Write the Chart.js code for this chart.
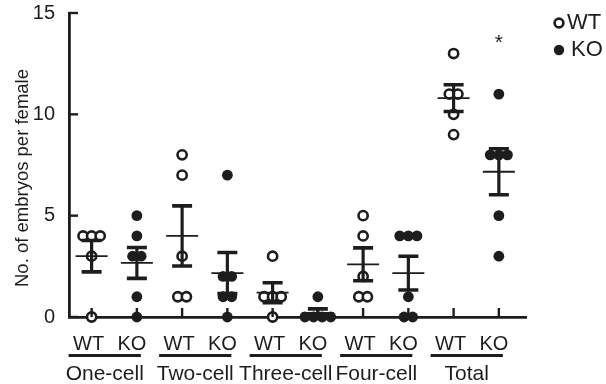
<!DOCTYPE html>
<html><head><meta charset="utf-8">
<script src="https://cdn.jsdelivr.net/npm/chart.js@4"></script>
<style>html,body{margin:0;padding:0;background:#fff}#wrap{width:606px;height:384px}</style>
</head><body><div id="wrap"><canvas id="c" width="606" height="384"></canvas></div>
<script>
// ---- data ----
const groups = ["One-cell", "Two-cell", "Three-cell", "Four-cell", "Total"];
const genotypes = ["WT", "KO"];
const yTicks = [0, 5, 10, 15];
const yTitle = "No. of embryos per female";
const wtOneCell = [4, 4, 4, 3, 0];
const koOneCell = [5, 4, 3, 3, 1, 0];
const wtTwoCell = [8, 7, 3, 1, 1];
const koTwoCell = [7, 2, 2, 1, 1, 0];
const wtThreeCell = [3, 1, 1, 1, 0];
const koThreeCell = [1, 0, 0, 0, 0];
const wtFourCell = [5, 4, 2, 1, 1];
const koFourCell = [4, 4, 4, 1, 0, 0];
const wtTotal = [13, 11, 11, 10, 9];
const koTotal = [11, 8, 8, 8, 5, 3];
const significance = ["", "", "", "", "", "", "", "", "", "*"];

// ---- build ----
const INK = '#1d1d1d';
const FONT = '"Liberation Sans", Arial, Helvetica, sans-serif';
const columns = [wtOneCell, koOneCell, wtTwoCell, koTwoCell, wtThreeCell, koThreeCell, wtFourCell, koFourCell, wtTotal, koTotal];
const JIT = 0.19;
function jitter(vals, xc) {
  const counts = {}, seen = {};
  vals.forEach(v => counts[v] = (counts[v] || 0) + 1);
  return vals.map(v => {
    const k = seen[v] = (seen[v] || 0) + 1;
    return { x: xc + (k - 1 - (counts[v] - 1) / 2) * JIT, y: v };
  });
}
const wtPts = [], koPts = [];
columns.forEach((vals, i) => { (i % 2 === 0 ? wtPts : koPts).push(...jitter(vals, i)); });
function stats(v) {
  const n = v.length, m = v.reduce((a, b) => a + b, 0) / n;
  const sd = Math.sqrt(v.reduce((a, b) => a + (b - m) * (b - m), 0) / (n - 1));
  return { m, sem: sd / Math.sqrt(n) };
}

const deco = {
  id: 'deco',
  afterDatasetsDraw(chart) {
    const ctx = chart.ctx, xs = chart.scales.x, ys = chart.scales.y, ca = chart.chartArea;
    ctx.save();
    ctx.strokeStyle = INK; ctx.fillStyle = INK; ctx.lineCap = 'butt';
    // mean and SEM
    columns.forEach((vals, i) => {
      const s = stats(vals);
      const xc = xs.getPixelForValue(i);
      const yM = ys.getPixelForValue(s.m), yH = ys.getPixelForValue(s.m + s.sem), yL = ys.getPixelForValue(Math.max(0, s.m - s.sem));
      ctx.lineWidth = 1.8;
      ctx.beginPath(); ctx.moveTo(xc - 16, yM); ctx.lineTo(xc + 16, yM); ctx.stroke();
      ctx.lineWidth = 3.2;
      ctx.beginPath(); ctx.moveTo(xc, yH); ctx.lineTo(xc, yL); ctx.stroke();
      ctx.lineWidth = 3.6;
      ctx.beginPath(); ctx.moveTo(xc - 10, yH); ctx.lineTo(xc + 10, yH); ctx.moveTo(xc - 10, yL); ctx.lineTo(xc + 10, yL); ctx.stroke();
      if (significance[i]) {
        ctx.font = '21px ' + FONT; ctx.textAlign = 'center'; ctx.textBaseline = 'alphabetic';
        ctx.fillText(significance[i], xc, 49);
      }
    });
    // inward ticks
    ctx.lineWidth = 2.4;
    columns.forEach((v, i) => {
      const xc = xs.getPixelForValue(i);
      ctx.beginPath(); ctx.moveTo(xc, ca.bottom); ctx.lineTo(xc, ca.bottom - 9); ctx.stroke();
    });
    yTicks.forEach(t => {
      const y = ys.getPixelForValue(t);
      ctx.beginPath(); ctx.moveTo(ca.left, y); ctx.lineTo(ca.left + 9, y); ctx.stroke();
    });
    // x labels
    ctx.textBaseline = 'alphabetic'; ctx.textAlign = 'center';
    groups.forEach((g, gi) => {
      const xw = xs.getPixelForValue(gi * 2), xk = xs.getPixelForValue(gi * 2 + 1);
      ctx.font = '20px ' + FONT;
      ctx.fillText(genotypes[0], xw - 3, 350);
      ctx.fillText(genotypes[1], xk - 5, 350);
      const u0 = xw - 23, u1 = xk + 4;
      ctx.lineWidth = 2.8;
      ctx.beginPath(); ctx.moveTo(u0, 355.5); ctx.lineTo(u1, 355.5); ctx.stroke();
      ctx.font = '21px ' + FONT;
      ctx.fillText(g, (u0 + u1) / 2, 380);
    });
    // y title
    ctx.save();
    ctx.translate(28, 178); ctx.rotate(-Math.PI / 2);
    ctx.font = '18.5px ' + FONT; ctx.textAlign = 'center'; ctx.textBaseline = 'alphabetic';
    ctx.fillText(yTitle, 0, 0);
    ctx.restore();
    // legend
    ctx.lineWidth = 2.6; ctx.fillStyle = '#fff';
    ctx.beginPath(); ctx.arc(559, 23, 4.4, 0, Math.PI * 2); ctx.fill(); ctx.stroke();
    ctx.fillStyle = INK;
    ctx.beginPath(); ctx.arc(559, 50, 5.2, 0, Math.PI * 2); ctx.fill();
    ctx.font = '22px ' + FONT; ctx.textAlign = 'left'; ctx.textBaseline = 'middle';
    ctx.fillText(genotypes[0], 567, 23);
    ctx.fillText(genotypes[1], 571, 50);
    ctx.restore();
  }
};

new Chart(document.getElementById('c'), {
  type: 'scatter',
  data: { datasets: [
    { label: 'WT', data: wtPts, pointStyle: 'circle', pointRadius: 4.6, pointHoverRadius: 4.6, pointBackgroundColor: '#fff', pointBorderColor: INK, pointBorderWidth: 2.6, clip: false },
    { label: 'KO', data: koPts, pointStyle: 'circle', pointRadius: 5.4, pointHoverRadius: 5.4, pointBackgroundColor: INK, pointBorderColor: INK, pointBorderWidth: 0, clip: false }
  ] },
  options: {
    responsive: false, animation: false, devicePixelRatio: 1,
    layout: { padding: { top: 13, right: 80, left: 0, bottom: 0 } },
    plugins: { legend: { display: false }, tooltip: { enabled: false } },
    events: [],
    scales: {
      x: { type: 'linear', min: -0.5, max: 9.6,
        grid: { display: false, drawTicks: false }, ticks: { display: false },
        border: { display: true, width: 2.8, color: INK },
        afterFit(s) { s.height = 67; s.paddingLeft = 0; s.paddingRight = 0; } },
      y: { type: 'linear', min: 0, max: 15,
        afterBuildTicks(s) { s.ticks = yTicks.map(v => ({ value: v })); },
        grid: { display: false, drawTicks: false },
        ticks: { padding: 14, color: INK, font: { family: FONT, size: 20 } },
        border: { display: true, width: 2.8, color: INK },
        afterFit(s) { s.width = 69; s.paddingTop = 0; s.paddingBottom = 0; } }
    }
  },
  plugins: [deco]
});
</script></body></html>
